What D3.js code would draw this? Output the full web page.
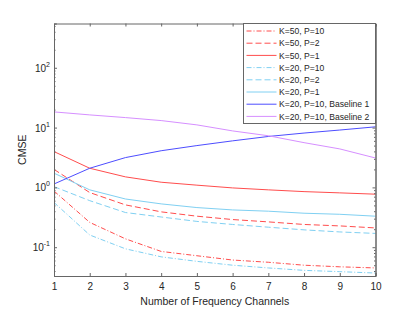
<!DOCTYPE html>
<html>
<head>
<meta charset="utf-8">
<script src="https://cdn.jsdelivr.net/npm/d3@7"></script>
<style>
  body { margin: 0; background: #fff; }
  svg { font-family: "Liberation Sans", Arial, sans-serif; }
</style>
</head>
<body>
<div id="chart"></div>
<script>
// data
const channels = [1, 2, 3, 4, 5, 6, 7, 8, 9, 10];
const k50p10 = [0.87, 0.26, 0.138, 0.085, 0.072, 0.061, 0.056, 0.050, 0.047, 0.045];
const k50p2  = [2.0, 0.82, 0.51, 0.39, 0.33, 0.29, 0.265, 0.24, 0.227, 0.21];
const k50p1  = [3.97, 2.09, 1.5, 1.22, 1.09, 0.98, 0.91, 0.85, 0.81, 0.77];
const k20p10 = [0.56, 0.16, 0.094, 0.069, 0.058, 0.050, 0.045, 0.041, 0.039, 0.037];
const k20p2  = [1.03, 0.60, 0.38, 0.32, 0.27, 0.24, 0.216, 0.195, 0.18, 0.17];
const k20p1  = [1.73, 0.91, 0.64, 0.53, 0.46, 0.42, 0.40, 0.37, 0.355, 0.33];
const base1  = [1.14, 2.09, 3.15, 4.1, 5.0, 6.0, 7.1, 8.1, 9.1, 10.3];
const base2  = [18.3, 16.3, 14.7, 13.1, 11.1, 8.8, 7.3, 5.6, 4.4, 3.1];
const seriesNames = ["K=50, P=10", "K=50, P=2", "K=50, P=1", "K=20, P=10", "K=20, P=2", "K=20, P=1",
  "K=20, P=10, Baseline 1", "K=20, P=10, Baseline 2"];
const seriesValues = [k50p10, k50p2, k50p1, k20p10, k20p2, k20p1, base1, base2];
const yExponents = [-1, 0, 1, 2];

const red = "#ff4d4d", sky = "#80d0f2", blue = "#4d4dff", violet = "#d68fff";
const styles = [
  { color: red, dash: "5,2,1,2" },
  { color: red, dash: "6,3" },
  { color: red, dash: null },
  { color: sky, dash: "5,2,1,2" },
  { color: sky, dash: "6,3" },
  { color: sky, dash: null },
  { color: blue, dash: null },
  { color: violet, dash: null },
];

const W = 415, H = 312;
const mLeft = 54, mRight = 375.5, mTop = 23.5, mBottom = 276;

const svg = d3.select("#chart").append("svg").attr("width", W).attr("height", H);

const x = d3.scaleLinear().domain([1, 10]).range([mLeft, mRight]);
const y = d3.scaleLog().domain([0.033, 550]).range([mBottom, mTop]);

const axisColor = "#666";
const minorVals = [];
for (let e = -2; e <= 2; e++) {
  for (let m = 2; m <= 9; m++) {
    const v = m * Math.pow(10, e);
    if (v >= 0.033 && v <= 550) minorVals.push(v);
  }
}

// lines
const line = d3.line().x((d, i) => x(channels[i])).y(d => y(d));
const plot = svg.append("g");
seriesValues.forEach((vals, i) => {
  plot.append("path")
    .attr("d", line(vals))
    .attr("fill", "none")
    .attr("stroke", styles[i].color)
    .attr("stroke-width", 1)
    .attr("stroke-dasharray", styles[i].dash);
});

// axes with inward ticks (box on)
const gx = svg.append("g").attr("transform", `translate(0,${mBottom})`)
  .call(d3.axisBottom(x).tickValues(channels).tickSize(-3).tickPadding(7).tickFormat(d3.format("d")));
svg.append("g").attr("transform", `translate(0,${mTop})`)
  .call(d3.axisTop(x).tickValues(channels).tickSize(-3).tickFormat(""));

svg.append("g").attr("transform", `translate(${mLeft},0)`)
  .call(d3.axisLeft(y).tickValues(yExponents.map(e => Math.pow(10, e))).tickSize(-3).tickFormat(""));
svg.append("g").attr("transform", `translate(${mLeft},0)`)
  .call(d3.axisLeft(y).tickValues(minorVals).tickSize(-1.5).tickFormat(""));
svg.append("g").attr("transform", `translate(${mRight},0)`)
  .call(d3.axisRight(y).tickValues(yExponents.map(e => Math.pow(10, e))).tickSize(-3).tickFormat(""));
svg.append("g").attr("transform", `translate(${mRight},0)`)
  .call(d3.axisRight(y).tickValues(minorVals).tickSize(-1.5).tickFormat(""));

svg.selectAll(".domain").attr("stroke", axisColor).attr("stroke-width", 1);
svg.selectAll(".tick line").attr("stroke", axisColor);
gx.selectAll("text").attr("font-size", 10).attr("fill", "#262626").attr("font-family", null);

// y tick labels as 10^e
yExponents.forEach(e => {
  const t = svg.append("text")
    .attr("x", mLeft - 4)
    .attr("y", y(Math.pow(10, e)) + 4)
    .attr("text-anchor", "end")
    .attr("font-size", 10)
    .attr("fill", "#262626");
  t.append("tspan").text("10");
  t.append("tspan").attr("dy", -5).attr("font-size", 7).text(String(e));
});

// axis labels
svg.append("text")
  .attr("x", (mLeft + mRight) / 2)
  .attr("y", 305)
  .attr("text-anchor", "middle")
  .attr("font-size", 10.5)
  .attr("fill", "#262626")
  .text("Number of Frequency Channels");
svg.append("text")
  .attr("transform", `translate(26,${(mTop + mBottom) / 2}) rotate(-90)`)
  .attr("text-anchor", "middle")
  .attr("font-size", 10.5)
  .attr("fill", "#262626")
  .text("CMSE");

// legend
const lg = svg.append("g");
const lx0 = 243.5, ly0 = 23.5, lx1 = 375.5, ly1 = 123.5;
lg.append("rect")
  .attr("x", lx0).attr("y", ly0).attr("width", lx1 - lx0).attr("height", ly1 - ly0)
  .attr("fill", "#fff").attr("stroke", axisColor);
seriesNames.forEach((name, i) => {
  const yy = 31 + i * 12.2;
  lg.append("line")
    .attr("x1", 246.5).attr("x2", 276.5).attr("y1", yy).attr("y2", yy)
    .attr("stroke", styles[i].color).attr("stroke-width", 1)
    .attr("stroke-dasharray", styles[i].dash);
  lg.append("text")
    .attr("x", 279).attr("y", yy + 3.2)
    .attr("font-size", 8.6)
    .attr("fill", "#262626")
    .text(name);
});
</script>
</body>
</html>
